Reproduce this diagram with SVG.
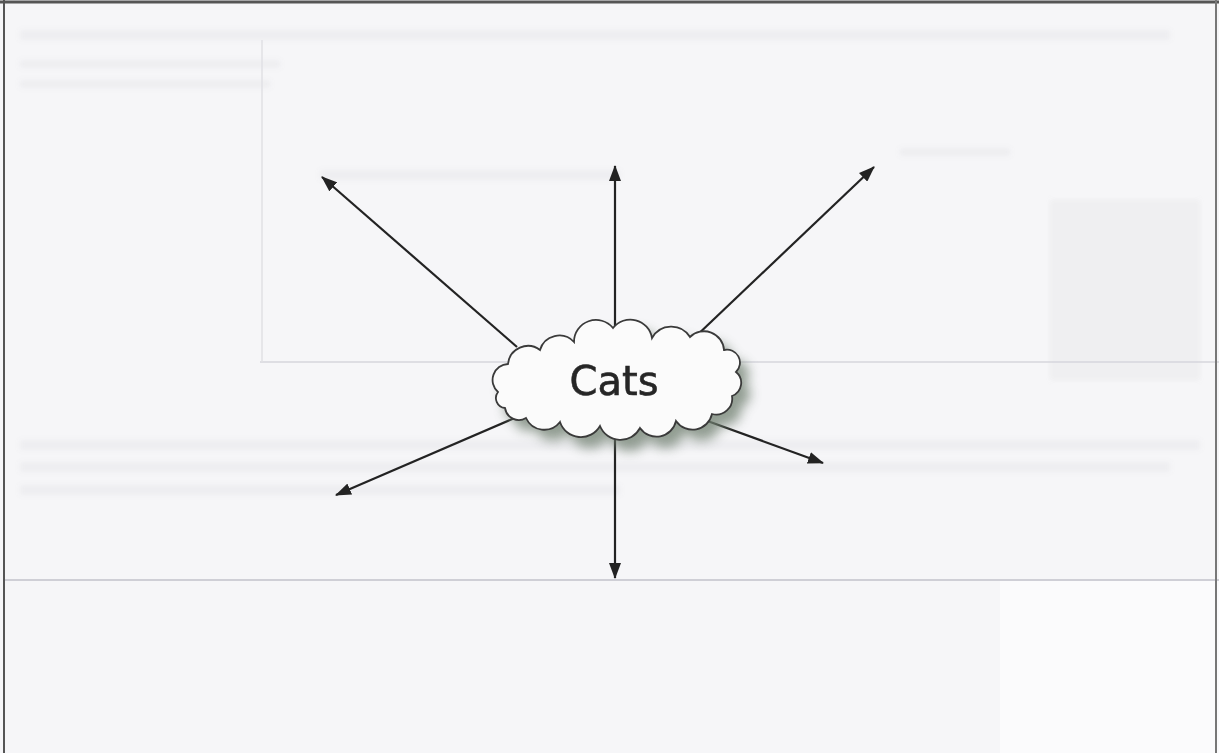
<svg xmlns="http://www.w3.org/2000/svg" width="1219" height="753" viewBox="0 0 1219 753">
  <defs>
    <style>
      .arrow { stroke:#232323; stroke-width:2.2; fill:none; marker-end:url(#head); }
      .ghost { fill:#9a9aa6; opacity:0.09; }
      .label { font-family:"DejaVu Sans", "Liberation Sans", sans-serif; font-size:40px; fill:#262626; stroke:#262626; stroke-width:0.6; }
    </style>
    <marker id="head" viewBox="0 0 16 12" refX="15" refY="6" markerWidth="16" markerHeight="12" markerUnits="userSpaceOnUse" orient="auto">
      <path d="M0,0 L16,6 L0,12 Z" fill="#232323"/>
    </marker>
    <filter id="blur" x="-20%" y="-30%" width="140%" height="160%">
      <feGaussianBlur stdDeviation="6"/>
    </filter>
    <filter id="soft" x="-5%" y="-50%" width="110%" height="200%">
      <feGaussianBlur stdDeviation="2.5"/>
    </filter>
    <path id="cloud" d="M498,392 A16,16 0 0 1 508,364 A20,20 0 0 1 540,350 A20,20 0 0 1 574,342 A22,22 0 0 1 613,328 A22,22 0 0 1 652,338 A22,22 0 0 1 690,337 A20,20 0 0 1 724,350 A13,13 0 0 1 736,372 A14,14 0 0 1 732,396 A16,16 0 0 1 712,414 A20,20 0 0 1 676,421 A20,20 0 0 1 640,428 A22,22 0 0 1 600,426 A22,22 0 0 1 560,422 A20,20 0 0 1 526,418 A14,14 0 0 1 505,408 A10,10 0 0 1 498,392 Z"/>
  </defs>

  <rect x="0" y="0" width="1219" height="753" fill="#f6f6f8"/>
  <!-- faint bleed-through texture -->
  <g id="background">
    <rect x="1000" y="580" width="219" height="173" fill="#ffffff" opacity="0.6"/>
    <g filter="url(#soft)">
      <rect class="ghost" x="20" y="30" width="1150" height="10"/>
      <rect class="ghost" x="20" y="60" width="260" height="8"/>
      <rect class="ghost" x="20" y="80" width="250" height="8"/>
      <rect class="ghost" x="320" y="170" width="300" height="10"/>
      <rect class="ghost" x="900" y="148" width="110" height="8"/>
      <rect class="ghost" x="20" y="440" width="1180" height="10"/>
      <rect class="ghost" x="20" y="462" width="1150" height="10"/>
      <rect class="ghost" x="20" y="485" width="600" height="10"/>
      <rect x="1050" y="200" width="150" height="180" fill="#c8c8cc" opacity="0.15"/>
    </g>
    <line x1="260" y1="362" x2="1219" y2="362" stroke="#d6d6dc" stroke-width="1.5"/>
    <line x1="262" y1="40" x2="262" y2="362" stroke="#e0e0e4" stroke-width="1.5"/>
    <line x1="4" y1="580" x2="1219" y2="580" stroke="#cfcfd6" stroke-width="2"/>
  </g>

  <!-- frame -->
  <line x1="0" y1="2" x2="1219" y2="2" stroke="#555" stroke-width="3"/>
  <line x1="4" y1="0" x2="4" y2="753" stroke="#555" stroke-width="2"/>
  <line x1="1216" y1="0" x2="1216" y2="753" stroke="#777" stroke-width="2"/>

  <g id="connectors">
    <line class="arrow" x1="517" y1="347" x2="322" y2="177"/>
    <line class="arrow" x1="615" y1="328" x2="615" y2="166"/>
    <line class="arrow" x1="692" y1="340" x2="874" y2="167"/>
    <line class="arrow" x1="517" y1="417" x2="336" y2="495"/>
    <line class="arrow" x1="615" y1="427" x2="615" y2="578"/>
    <line class="arrow" x1="702" y1="419" x2="823" y2="463"/>
  </g>

  <g id="cats">
    <use href="#cloud" transform="translate(9,11)" filter="url(#blur)" fill="#6f7f6f" opacity="0.75"/>
    <use href="#cloud" fill="#fbfbfb" stroke="#3a3a3a" stroke-width="1.8"/>
    <text class="label" x="614" y="395" text-anchor="middle">Cats</text>
  </g>
</svg>
